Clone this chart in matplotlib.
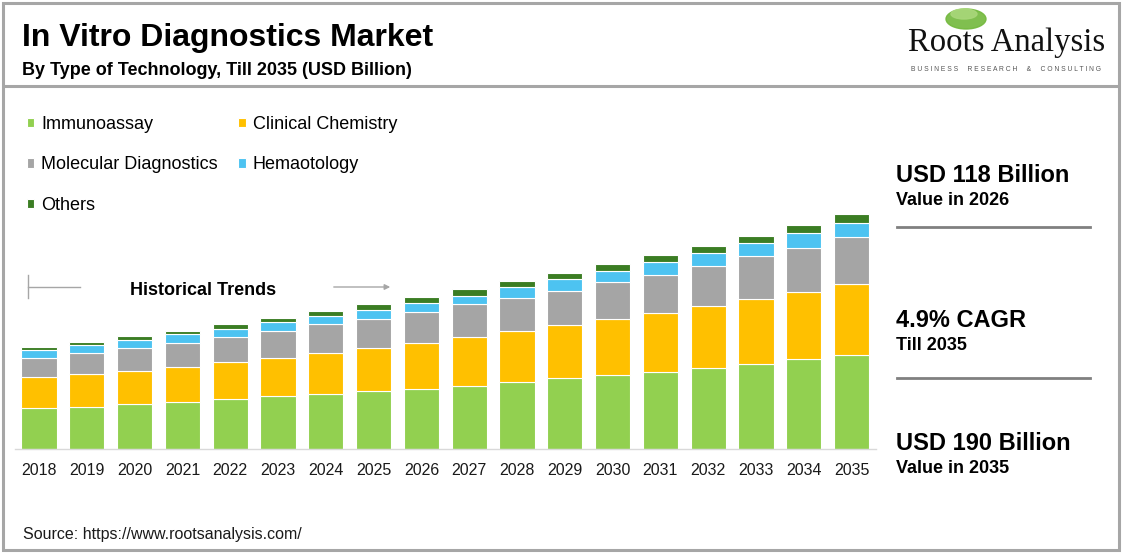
import numpy as np
import matplotlib.pyplot as plt
from matplotlib.patches import Rectangle, Ellipse, FancyArrowPatch
from matplotlib.lines import Line2D

plt.rcParams['font.family'] = ['Liberation Sans', 'DejaVu Sans']

# data (USD billion)
years = ['2018', '2019', '2020', '2021', '2022', '2023', '2024', '2025', '2026',
         '2027', '2028', '2029', '2030', '2031', '2032', '2033', '2034', '2035']
immunoassay = [32.9, 34.2, 36.1, 38.2, 40.2, 42.6, 44.2, 46.6, 48.8,
               51.2, 53.9, 57.2, 59.6, 62.5, 65.2, 68.7, 72.8, 76.0]
clinical_chem = [25.1, 26.2, 27.2, 28.3, 30.4, 31.2, 33.6, 35.3, 37.2,
                 39.4, 41.5, 42.9, 45.5, 47.5, 50.1, 52.6, 53.9, 57.4]
molecular = [15.8, 17.5, 18.4, 19.4, 20.2, 21.8, 23.0, 23.2, 25.1,
             26.4, 26.9, 28.0, 29.7, 31.0, 32.8, 34.5, 36.1, 37.7]
hematology = [6.2, 6.0, 6.5, 7.0, 6.5, 6.8, 6.7, 7.5, 7.3,
              7.0, 8.4, 9.5, 8.9, 10.0, 10.0, 10.5, 11.6, 11.6]
others = [2.4, 2.7, 3.2, 2.4, 3.8, 3.5, 4.0, 4.9, 4.6,
          5.4, 5.3, 5.1, 5.9, 5.9, 5.9, 5.9, 6.7, 7.5]

series = [
    ('Immunoassay', immunoassay, '#92D050'),
    ('Clinical Chemistry', clinical_chem, '#FFC000'),
    ('Molecular Diagnostics', molecular, '#A5A5A5'),
    ('Hemaotology', hematology, '#4DC3F1'),
    ('Others', others, '#3B7D23'),
]

W, H = 1123, 553
fig = plt.figure(figsize=(W / 100, H / 100), dpi=100)


def fx(x):
    return x / W


def fy(y):
    return 1 - y / H


# bar area: baseline at y=449px, 235px = 190 bn
ax_left, ax_right, ax_bottom, ax_top = 15.1, 875.5, 449, 205
ax = fig.add_axes([fx(ax_left), fy(ax_bottom), (ax_right - ax_left) / W, (ax_bottom - ax_top) / H])
x = np.arange(len(years))
bottom = np.zeros(len(years))
handles = {}
for name, vals, col in series:
    b = ax.bar(x, vals, 0.74, bottom=bottom, color=col, edgecolor='white', linewidth=0.8, label=name)
    handles[name] = b
    bottom += np.array(vals)

ax.set_xlim(-0.5, 17.5)
ax.set_ylim(0, (ax_bottom - ax_top) / 235 * 190)
ax.set_xticks(x)
ax.set_xticklabels(years, fontsize=11.5, color='#1a1a1a')
ax.tick_params(axis='x', length=0, pad=10)
ax.set_yticks([])
for s in ['top', 'right', 'left']:
    ax.spines[s].set_visible(False)
ax.spines['bottom'].set_color('#D9D9D9')
ax.spines['bottom'].set_linewidth(1)

# legend in row order
order = ['Immunoassay', 'Molecular Diagnostics', 'Others', 'Clinical Chemistry', 'Hemaotology']
fig.legend([handles[n] for n in order], order, loc='upper left',
           bbox_to_anchor=(fx(27), fy(116)), ncol=2, frameon=False, fontsize=13,
           handlelength=0.4, handleheight=0.4, handletextpad=0.4,
           columnspacing=1.12, labelspacing=1.3, borderpad=0, borderaxespad=0)

# titles
fig.text(fx(22), fy(46), 'In Vitro Diagnostics Market', fontsize=23, fontweight='bold', va='baseline')
fig.text(fx(22), fy(75), 'By Type of Technology, Till 2035 (USD Billion)', fontsize=13,
         fontweight='bold', va='baseline')

# frame and divider
fig.add_artist(Rectangle((fx(3), fy(550)), fx(1116), 547 / H, transform=fig.transFigure,
                         fill=False, edgecolor='#A6A6A6', linewidth=2.2))
fig.add_artist(Line2D([fx(5), fx(1117)], [fy(86), fy(86)], color='#A6A6A6', linewidth=2.2))

# logo
fig.add_artist(Ellipse((fx(966), fy(19)), 40 / W, 20 / H, transform=fig.transFigure,
                       color='#72B83C', alpha=0.9))
fig.add_artist(Ellipse((fx(964), fy(14)), 26 / W, 10 / H, transform=fig.transFigure,
                       color='#A9D77A', alpha=0.9))
fig.text(fx(1007), fy(51), 'Roots Analysis', fontsize=23.5, family='Liberation Serif',
         ha='center', va='baseline', color='#111111')
fig.text(fx(1006), fy(71), '  '.join('BUSINESS RESEARCH & CONSULTING'.split(' ')).replace('', ' ').strip(),
         fontsize=4.9, ha='center', va='baseline', color='#555555')

# right panel
fig.text(fx(896), fy(182), 'USD 118 Billion', fontsize=17, fontweight='bold', va='baseline')
fig.text(fx(896), fy(205), 'Value in 2026', fontsize=13, fontweight='bold', va='baseline')
fig.add_artist(Line2D([fx(897), fx(1090)], [fy(227), fy(227)], color='#808080', linewidth=2))
fig.text(fx(896), fy(327), '4.9% CAGR', fontsize=17, fontweight='bold', va='baseline')
fig.text(fx(896), fy(350), 'Till 2035', fontsize=13, fontweight='bold', va='baseline')
fig.add_artist(Line2D([fx(897), fx(1090)], [fy(378), fy(378)], color='#808080', linewidth=2))
fig.text(fx(896), fy(450), 'USD 190 Billion', fontsize=17, fontweight='bold', va='baseline')
fig.text(fx(896), fy(473), 'Value in 2035', fontsize=13, fontweight='bold', va='baseline')

# historical trends marker
fig.add_artist(Line2D([fx(28), fx(28)], [fy(275), fy(298)], color='#A6A6A6', linewidth=1))
fig.add_artist(Line2D([fx(28), fx(80)], [fy(287), fy(287)], color='#A6A6A6', linewidth=1))
fig.text(fx(130), fy(295), 'Historical Trends', fontsize=13, fontweight='bold', va='baseline')
fig.patches.append(FancyArrowPatch(
    (fx(331), fy(287)), (fx(393), fy(287)), transform=fig.transFigure,
    arrowstyle='-|>', mutation_scale=8, color='#A6A6A6', linewidth=1))

fig.text(fx(23), fy(539), 'Source: https://www.rootsanalysis.com/', fontsize=11.5,
         va='baseline', color='#1a1a1a')

fig.savefig('out.png', dpi=100)
